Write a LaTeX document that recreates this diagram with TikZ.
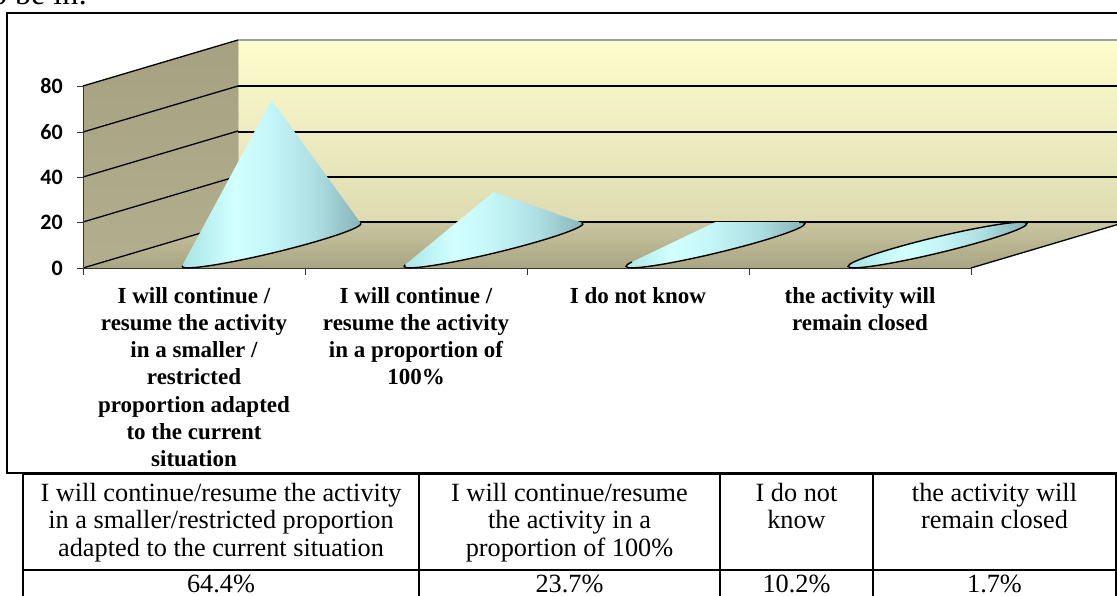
\documentclass[tikz,border=0pt]{standalone}
\usepackage{fontspec}
\setmainfont{Liberation Serif}
\newfontfamily\axisfont{Carlito}
\definecolor{wallTop}{HTML}{FEFDCE}
\definecolor{wallBot}{HTML}{DEDBB2}
\definecolor{sideTop}{HTML}{A6A180}
\definecolor{sideBot}{HTML}{B3AF8E}
\definecolor{floorBack}{HTML}{CAC6A0}
\definecolor{floorFront}{HTML}{A9A583}
\definecolor{cA}{HTML}{A4E2E4}
\definecolor{cB}{HTML}{D2FFFF}
\definecolor{cBB}{HTML}{C4F6F8}
\definecolor{cC}{HTML}{AEE0E3}
\definecolor{cD}{HTML}{86B2B6}
\pgfdeclarehorizontalshading{coneshade}{100bp}{color(0bp)=(cA); color(25bp)=(cA); color(40bp)=(cB); color(50bp)=(cBB); color(62bp)=(cC); color(75bp)=(cD); color(100bp)=(cD)}
\begin{document}
\begin{tikzpicture}[x=1pt,y=-1pt,
  grid/.style={line width=1.3pt, black},
  axisline/.style={line width=0.9pt, black!80},
  rim/.style={line width=1.4pt, black},
  tbl/.style={line width=1.8pt, black},
  axlab/.style={anchor=east, inner sep=0pt, font=\axisfont\bfseries\fontsize{22}{24}\selectfont},
  catlab/.style={anchor=base, inner sep=0pt, align=center, font=\bfseries\fontsize{23}{27.3}\selectfont},
  cell/.style={anchor=base, inner sep=0pt, align=center, font=\fontsize{26.3}{27.5}\selectfont}]
\useasboundingbox (0,0) rectangle (1117,596);
\clip (0,0) rectangle (1117,596);

% text cut at the top of the page
\node[anchor=base west, inner sep=0pt, font=\fontsize{32}{36}\selectfont] (toptext) at (-9,5) {o be in:};

% walls and floor
\fill[top color=wallTop, bottom color=wallBot] (238,40) rectangle (1130,222);
\fill[top color=sideTop, bottom color=sideBot] (83,86) -- (238,40) -- (238,222) -- (83,268) -- cycle;
\fill[top color=floorBack, bottom color=floorFront] (83,268) -- (238,222) -- (1126,222) -- (971,268) -- cycle;

% gridlines
\draw[gray!75, line width=1.6pt] (238,40) -- (1130,40);
\foreach \y in {86,132,177,222} \draw[grid] (238,\y) -- (1130,\y);
\foreach \y in {86,132,177,222,268} \draw[grid] (83,\y) -- (238,\y-46);
\draw[grid] (971,268) -- (1126,222);

% axes
\draw[axisline] (83,86) -- (83,268) -- (971,268);
\foreach \y in {86,132,177,222,268} \draw[axisline] (77,\y) -- (83,\y);
\foreach \x in {83,305,527,749,971} \draw[axisline] (\x,268) -- (\x,275);
\foreach \v/\y in {80/86,60/132,40/177,20/222,0/268} \node[axlab] (ax\v) at (63,\y) {\v};

% cones
\coordinate (ap1) at (271.5,100);
\coordinate (ap2) at (493.5,192);
\coordinate (ap3) at (715.5,222);
\begin{scope}[shift={(271.5,245)}, rotate=13.5]
  \shade[shading=coneshade] (ap1) -- (175.56:92pt and 8pt) arc[start angle=175.56, end angle=362.06, x radius=92pt, y radius=8pt] -- cycle;
  \draw[rim] (175.56:92pt and 8pt) arc[start angle=175.56, end angle=362.06, x radius=92pt, y radius=8pt];
\end{scope}
\begin{scope}[shift={(493.5,245)}, rotate=13.5]
  \shade[shading=coneshade] (ap2) -- (169.87:92pt and 8pt) arc[start angle=169.87, end angle=367.73, x radius=92pt, y radius=8pt] -- cycle;
  \draw[rim] (169.87:92pt and 8pt) arc[start angle=169.87, end angle=367.73, x radius=92pt, y radius=8pt];
\end{scope}
\begin{scope}[shift={(715.5,245)}, rotate=13.5]
  \shade[shading=coneshade] (ap3) -- (157.85:92pt and 8pt) arc[start angle=157.85, end angle=379.75, x radius=92pt, y radius=8pt] -- cycle;
  \draw[rim] (157.85:92pt and 8pt) arc[start angle=157.85, end angle=379.75, x radius=92pt, y radius=8pt];
\end{scope}
\begin{scope}[shift={(937.5,245)}, rotate=13.5]
  \shade[shading=coneshade] (0pt,0pt) ellipse[x radius=92pt, y radius=8pt];
  \draw[rim] (0pt,0pt) ellipse[x radius=92pt, y radius=8pt];
\end{scope}

% category labels (anchor = baseline of the last line)
\node[catlab] (cat1) at (194,466.8) {I will continue /\\resume the activity\\in a smaller /\\restricted\\proportion adapted\\to the current\\situation};
\node[catlab] (cat2) at (416,384.9) {I will continue /\\resume the activity\\in a proportion of\\100\%};
\node[catlab] (cat3) at (638,303) {I do not know};
\node[catlab] (cat4) at (860,330.3) {the activity will\\remain closed};

% chart frame
\draw[line width=1.6pt] (7,13) rectangle (1130,473);

% table
\draw[tbl] (23,600) -- (23,474) -- (1116,474) -- (1116,600);
\draw[tbl] (23,570) -- (1116,570);
\foreach \x in {419,720,873} \draw[tbl] (\x,474) -- (\x,600);
\node[cell] (h1) at (221,556) {I will continue/resume the activity\\in a smaller/restricted proportion\\adapted to the current situation};
\node[cell] (h2) at (569.5,556) {I will continue/resume\\the activity in a\\proportion of 100\%};
\node[cell] (h3) at (796.5,528.5) {I do not\\know};
\node[cell] (h4) at (994.5,528.5) {the activity will\\remain closed};
\node[cell] (v1) at (221,592.5) {64.4\%};
\node[cell] (v2) at (569.5,592.5) {23.7\%};
\node[cell] (v3) at (796.5,592.5) {10.2\%};
\node[cell] (v4) at (994.5,592.5) {1.7\%};
\end{tikzpicture}
\end{document}
